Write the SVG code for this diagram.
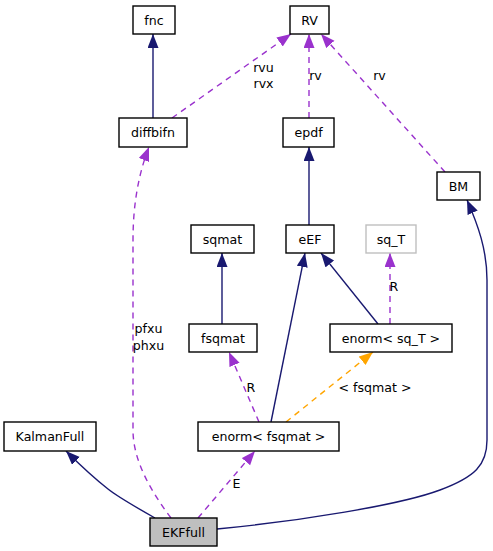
<svg xmlns="http://www.w3.org/2000/svg" width="493" height="551" viewBox="0 0 493 551">
<style>
text{font-family:"DejaVu Sans","Liberation Sans",sans-serif;font-size:12.6px;fill:#000}
.n rect{fill:#fff;stroke:#000;stroke-width:1.4}
.n text{text-anchor:middle}
.e{fill:none;stroke-width:1.4}
.inh{stroke:#191970;marker-end:url(#aN)}
.use{stroke:#9a32cd;stroke-dasharray:6,5;marker-end:url(#aP)}
.tpl{stroke:#ffa500;stroke-dasharray:6,5;marker-end:url(#aO)}
.lbl{text-anchor:middle}
</style>
<defs>
<marker id="aN" markerUnits="userSpaceOnUse" markerWidth="15" markerHeight="12" refX="14" refY="5.5" orient="auto"><path d="M0,0 L14,5.5 L0,11 z" fill="#191970"/></marker>
<marker id="aP" markerUnits="userSpaceOnUse" markerWidth="15" markerHeight="12" refX="14" refY="5.5" orient="auto"><path d="M0,0 L14,5.5 L0,11 z" fill="#9a32cd"/></marker>
<marker id="aO" markerUnits="userSpaceOnUse" markerWidth="15" markerHeight="12" refX="14" refY="5.5" orient="auto"><path d="M0,0 L14,5.5 L0,11 z" fill="#ffa500"/></marker>
</defs>
<rect width="493" height="551" fill="#fff"/>
<g id="edges">
<path class="e inh" d="M153,118 L153,34"/>
<path class="e use" d="M172,118 L291,34"/>
<path class="e use" d="M309,118 L309,34"/>
<path class="e use" d="M445,172 L321,34"/>
<path class="e inh" d="M309,225 L309,147"/>
<path class="e inh" d="M222,324 L222,253"/>
<path class="e inh" d="M271,422 L305,253"/>
<path class="e inh" d="M378,324 L321,253"/>
<path class="e use" d="M390,324 L390,253"/>
<path class="e use" d="M259,422 L229,352"/>
<path class="e tpl" d="M286,422 L373,352"/>
<path class="e inh" d="M155,518 C132,505 118,497 108,489 C94,478 80,465 66,451"/>
<path class="e use" d="M198,518 L255,451"/>
<path class="e use" d="M171,518 C150,490 133,460 133,430 L133,240 C133,200 140,170 149,147"/>
<path class="e inh" d="M217,529 C300,521 400,505 440,490 C475,477 487,465 487,440 L487,280 C487,250 478,225 467,200"/>
<text class="lbl" x="263.5" y="72">rvu</text>
<text class="lbl" x="263.5" y="88">rvx</text>
<text class="lbl" x="315.5" y="80">rv</text>
<text class="lbl" x="379.5" y="80">rv</text>
<text class="lbl" x="394" y="291">R</text>
<text class="lbl" x="251" y="392">R</text>
<text class="lbl" x="375" y="392">&lt; fsqmat &gt;</text>
<text class="lbl" x="236.5" y="488">E</text>
<text class="lbl" x="148.5" y="333">pfxu</text>
<text class="lbl" x="148.5" y="350">phxu</text>
</g>
<g id="fnc" class="n"><rect x="133" y="6" width="42" height="28"/><text x="154" y="24.5">fnc</text></g>
<g id="RV" class="n"><rect x="290" y="6" width="39" height="28"/><text x="309.5" y="24.5">RV</text></g>
<g id="diffbifn" class="n"><rect x="119" y="118" width="68" height="29"/><text x="153" y="137">diffbifn</text></g>
<g id="epdf" class="n"><rect x="283" y="118" width="51" height="29"/><text x="308.5" y="137">epdf</text></g>
<g id="BM" class="n"><rect x="437" y="172" width="43" height="28"/><text x="458.5" y="190.5">BM</text></g>
<g id="sqmat" class="n"><rect x="191" y="225" width="63" height="28"/><text x="222.5" y="243.5">sqmat</text></g>
<g id="eEF" class="n"><rect x="286" y="225" width="48" height="28"/><text x="310" y="243.5">eEF</text></g>
<g id="sq_T" class="n"><rect x="366" y="225" width="50" height="28" style="stroke:#bfbfbf"/><text x="391" y="243.5">sq_T</text></g>
<g id="fsqmat" class="n"><rect x="189" y="324" width="68" height="28"/><text x="223" y="342.5">fsqmat</text></g>
<g id="enorm_sq_T" class="n"><rect x="330" y="324" width="122" height="28"/><text x="391" y="342.5">enorm&lt; sq_T &gt;</text></g>
<g id="KalmanFull" class="n"><rect x="4" y="422" width="92" height="29"/><text x="50" y="441">KalmanFull</text></g>
<g id="enorm_fsqmat" class="n"><rect x="198" y="422" width="141" height="29"/><text x="268.5" y="441">enorm&lt; fsqmat &gt;</text></g>
<g id="EKFfull" class="n"><rect x="150" y="518" width="67" height="28" style="fill:#bfbfbf"/><text x="183.5" y="536.5">EKFfull</text></g>
</svg>
